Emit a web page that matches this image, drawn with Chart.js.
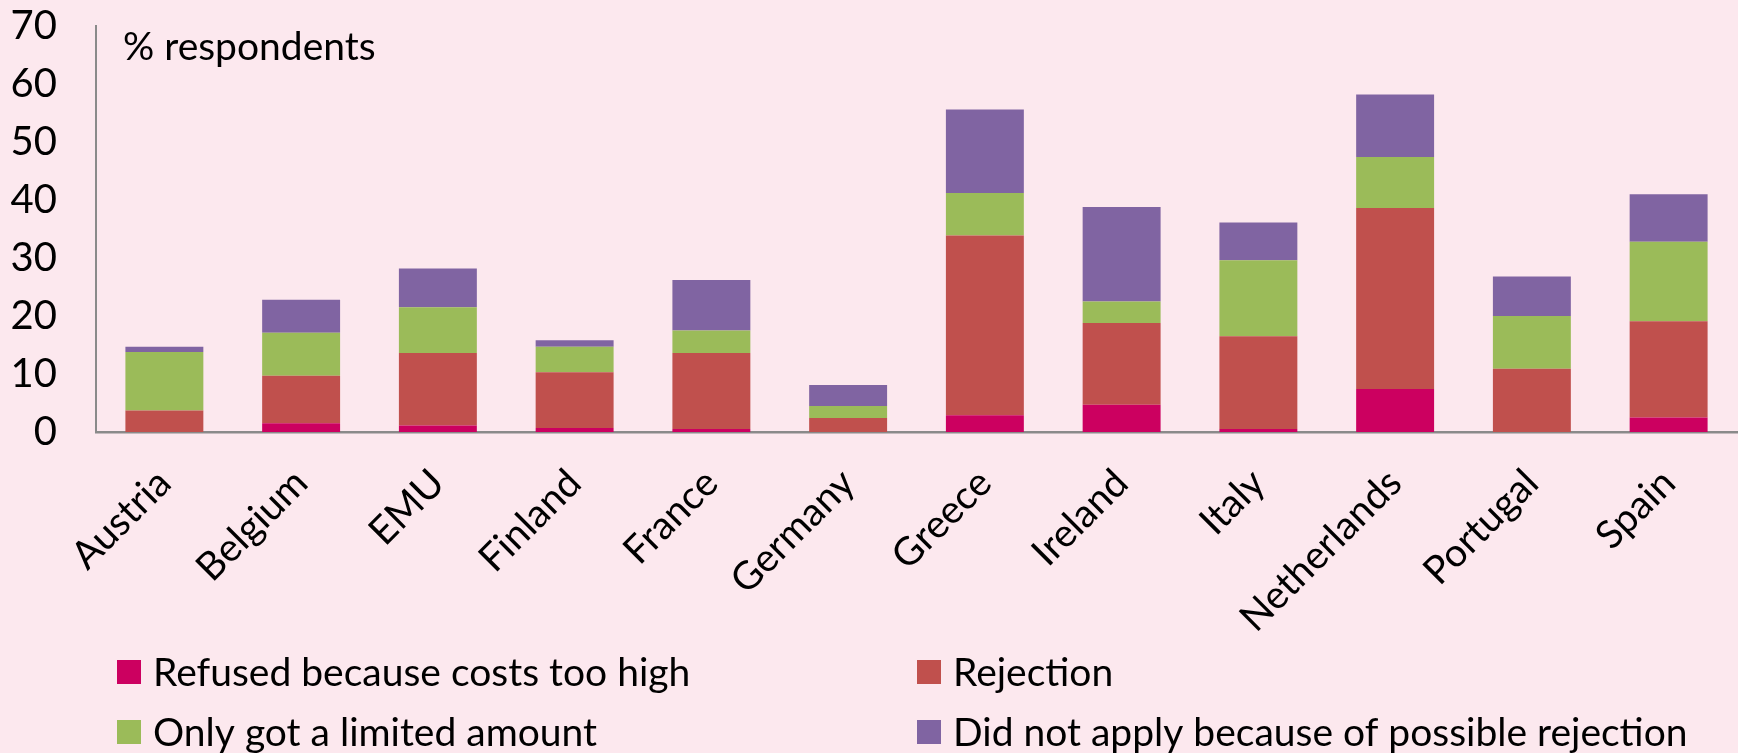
<!DOCTYPE html>
<html>
<head>
<meta charset="utf-8">
<script src="https://cdn.jsdelivr.net/npm/chart.js@4"></script>
<style>
  html, body { margin: 0; padding: 0; background: #fce8ee; }
  #wrap { width: 1738px; height: 753px; }
</style>
</head>
<body>
<div id="wrap"><canvas id="chart" width="1738" height="753"></canvas></div>
<script>
const categories = ['Austria', 'Belgium', 'EMU', 'Finland', 'France', 'Germany', 'Greece', 'Ireland', 'Italy', 'Netherlands', 'Portugal', 'Spain'];

const refusedCost = [0, 1.5, 1.1, 0.7, 0.5, 0, 2.9, 4.7, 0.5, 7.4, 0, 2.5];
const rejection = [3.7, 8.2, 12.5, 9.6, 13.1, 2.4, 31.0, 14.1, 16.0, 31.2, 10.9, 16.6];
const limitedAmount = [10.1, 7.4, 7.9, 4.4, 3.9, 2.1, 7.3, 3.7, 13.1, 8.8, 9.1, 13.7];
const didNotApply = [0.9, 5.7, 6.7, 1.1, 8.7, 3.6, 14.4, 16.3, 6.5, 10.8, 6.8, 8.2];

const seriesLabels = [
  'Refused because costs too high',
  'Rejection',
  'Only got a limited amount',
  'Did not apply because of possible rejection'
];
const seriesColors = ['#cc0060', '#c0504d', '#9bbb59', '#8064a2'];

const yTicks = [0, 10, 20, 30, 40, 50, 60, 70];
const unitLabel = '% respondents';

const FONT = 'Lato, "Open Sans", sans-serif';
const AXIS_GREY = '#8a8a8a';

// "% respondents" written inside the plot, top left
const unitLabelPlugin = {
  id: 'unitLabel',
  afterDraw(chart) {
    const { ctx, chartArea } = chart;
    ctx.save();
    ctx.fillStyle = '#000';
    ctx.font = '39px ' + FONT;
    ctx.textAlign = 'left';
    ctx.textBaseline = 'alphabetic';
    ctx.fillText(unitLabel, chartArea.left + 27, 60);
    ctx.restore();
  }
};

// two-column legend under the rotated category labels
const gridLegendPlugin = {
  id: 'gridLegend',
  afterDraw(chart) {
    const { ctx } = chart;
    const colX = [117, 917];
    const rowY = [672, 732];
    const box = 24;
    ctx.save();
    ctx.font = '39px ' + FONT;
    ctx.textBaseline = 'middle';
    ctx.textAlign = 'left';
    chart.data.datasets.forEach((ds, i) => {
      const x = colX[i % 2];
      const y = rowY[Math.floor(i / 2)];
      ctx.fillStyle = ds.backgroundColor;
      ctx.fillRect(x, y - box / 2, box, box);
      ctx.fillStyle = '#000';
      ctx.fillText(ds.label, x + box + 12, y + 1);
    });
    ctx.restore();
  }
};

const datasets = [refusedCost, rejection, limitedAmount, didNotApply].map((values, i) => ({
  label: seriesLabels[i],
  data: values,
  backgroundColor: seriesColors[i],
  borderWidth: 0,
  barPercentage: 0.57,
  categoryPercentage: 1
}));

new Chart(document.getElementById('chart'), {
  type: 'bar',
  data: { labels: categories, datasets },
  options: {
    responsive: false,
    animation: false,
    layout: { padding: { top: 26, right: 1, left: 0, bottom: 0 } },
    plugins: {
      legend: { display: false },
      tooltip: { enabled: false }
    },
    scales: {
      x: {
        stacked: true,
        grid: { display: false, drawTicks: false },
        border: { display: true, color: AXIS_GREY, width: 2.5 },
        ticks: {
          color: '#000',
          font: { family: FONT, size: 39 },
          minRotation: 45,
          maxRotation: 45,
          autoSkip: false,
          padding: 28
        },
        afterFit(scale) { scale.height = 321; }
      },
      y: {
        stacked: true,
        min: 0,
        max: 70,
        grid: { display: false, drawTicks: false },
        border: { display: true, color: AXIS_GREY, width: 2 },
        afterBuildTicks(scale) { scale.ticks = yTicks.map(v => ({ value: v })); },
        ticks: {
          color: '#000',
          font: { family: FONT, size: 40 },
          padding: 39
        },
        afterFit(scale) {
          scale.width = 96;
          // tick padding would otherwise be added above the 70 label
          scale.paddingTop = 0;
          scale.paddingBottom = 0;
        }
      }
    }
  },
  plugins: [unitLabelPlugin, gridLegendPlugin]
});
</script>
</body>
</html>
